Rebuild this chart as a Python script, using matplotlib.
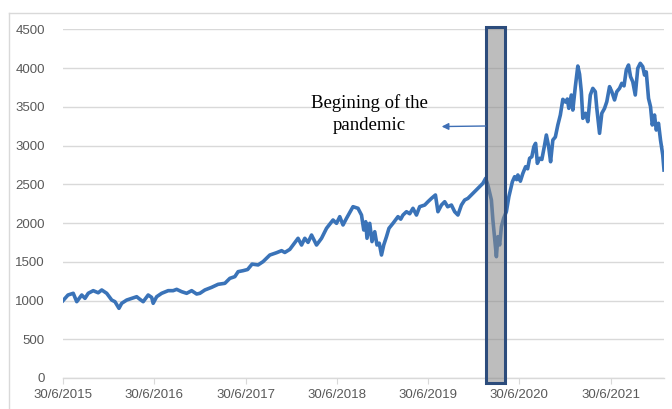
import matplotlib
matplotlib.use("Agg")
import matplotlib.pyplot as plt
import matplotlib.dates as mdates
import pandas as pd
from matplotlib.patches import Rectangle

# index level
dates = [
    "2015-06-30", "2015-07-20", "2015-08-10", "2015-08-24", "2015-09-13", "2015-09-26",
    "2015-10-09", "2015-10-29", "2015-11-18", "2015-12-02", "2015-12-22", "2016-01-11",
    "2016-01-24", "2016-02-09", "2016-02-20", "2016-03-11", "2016-03-31", "2016-04-20",
    "2016-05-03", "2016-05-16", "2016-06-05", "2016-06-19", "2016-06-25", "2016-07-09",
    "2016-07-29", "2016-08-24", "2016-09-13", "2016-09-27", "2016-10-17", "2016-11-06",
    "2016-11-26", "2016-12-16", "2016-12-29", "2017-01-18", "2017-02-14", "2017-03-12",
    "2017-04-08", "2017-04-28", "2017-05-18", "2017-05-31", "2017-06-20", "2017-07-08",
    "2017-07-26", "2017-08-19", "2017-09-08", "2017-10-05", "2017-11-01", "2017-11-21",
    "2017-12-04", "2017-12-24", "2018-01-26", "2018-02-09", "2018-02-22", "2018-03-07",
    "2018-03-21", "2018-04-10", "2018-04-30", "2018-05-20", "2018-06-15", "2018-06-29",
    "2018-07-12", "2018-07-25", "2018-08-08", "2018-09-03", "2018-09-23", "2018-10-07",
    "2018-10-16", "2018-10-24", "2018-10-29", "2018-11-09", "2018-11-18", "2018-11-29",
    "2018-12-08", "2018-12-17", "2018-12-26", "2019-01-04", "2019-01-15", "2019-01-25",
    "2019-02-10", "2019-03-02", "2019-03-13", "2019-03-22", "2019-04-05", "2019-04-18",
    "2019-05-01", "2019-05-15", "2019-05-28", "2019-06-17", "2019-06-30", "2019-07-14",
    "2019-07-30", "2019-08-09", "2019-08-23", "2019-09-05", "2019-09-17", "2019-10-02",
    "2019-10-15", "2019-10-28", "2019-11-11", "2019-11-24", "2019-12-07", "2019-12-27",
    "2020-01-16", "2020-02-05", "2020-02-16", "2020-02-25", "2020-03-10", "2020-03-16",
    "2020-03-26", "2020-03-30", "2020-04-05", "2020-04-12", "2020-04-19", "2020-04-28",
    "2020-05-09", "2020-05-19", "2020-06-02", "2020-06-11", "2020-06-19", "2020-06-24",
    "2020-07-04", "2020-07-14", "2020-07-25", "2020-08-02", "2020-08-10", "2020-08-19",
    "2020-08-27", "2020-09-03", "2020-09-10", "2020-09-19", "2020-09-28", "2020-10-09",
    "2020-10-16", "2020-10-25", "2020-11-02", "2020-11-11", "2020-11-21", "2020-12-01",
    "2020-12-11", "2020-12-21", "2021-01-01", "2021-01-08", "2021-01-14", "2021-01-24",
    "2021-01-30", "2021-02-09", "2021-02-19", "2021-02-26", "2021-03-05", "2021-03-11",
    "2021-03-22", "2021-03-31", "2021-04-10", "2021-04-20", "2021-04-30", "2021-05-06",
    "2021-05-17", "2021-05-26", "2021-06-06", "2021-06-15", "2021-06-26", "2021-07-05",
    "2021-07-16", "2021-07-25", "2021-08-05", "2021-08-14", "2021-08-23", "2021-09-01",
    "2021-09-10", "2021-09-18", "2021-09-27", "2021-10-07", "2021-10-17", "2021-10-27",
    "2021-11-06", "2021-11-13", "2021-11-20", "2021-11-29", "2021-12-07", "2021-12-14",
    "2021-12-23", "2021-12-30", "2022-01-08", "2022-01-16", "2022-01-25", "2022-01-30",
]
values = [
    998, 1071, 1093, 985, 1071, 1028,
    1093, 1127, 1100, 1136, 1093, 1006,
    985, 899, 964, 1006, 1028, 1049,
    1015, 985, 1071, 1040, 964, 1049,
    1093, 1127, 1127, 1144, 1114, 1093,
    1127, 1084, 1093, 1136, 1170, 1209,
    1222, 1286, 1308, 1372, 1385, 1400,
    1470, 1459, 1502, 1587, 1617, 1643,
    1620, 1660, 1803, 1716, 1803, 1750,
    1845, 1716, 1803, 1932, 2039, 1996,
    2082, 1975, 2061, 2211, 2190, 2103,
    1910, 2017, 1803, 1996, 1760, 1888,
    1716, 1740, 1587, 1716, 1824, 1932,
    1996, 2082, 2050, 2103, 2146, 2120,
    2190, 2103, 2211, 2232, 2275, 2318,
    2362, 2146, 2232, 2275, 2210, 2232,
    2146, 2103, 2232, 2297, 2318, 2383,
    2447, 2512, 2577, 2490, 2297, 2039,
    1695, 1566, 1824, 1717, 1953, 2061,
    2147, 2340, 2533, 2598, 2560, 2620,
    2540, 2641, 2727, 2700, 2835, 2856,
    2985, 3028, 2770, 2835, 2820, 3007,
    3136, 2990, 2791, 3071, 3110, 3265,
    3394, 3596, 3560, 3600, 3480, 3652,
    3458, 3760, 4026, 3920, 3695, 3351,
    3416, 3308, 3652, 3738, 3695, 3480,
    3158, 3416, 3480, 3566, 3760, 3695,
    3588, 3695, 3738, 3803, 3770, 3975,
    4039, 3889, 3823, 3652, 3997, 4061,
    4018, 3910, 3950, 3609, 3502, 3265,
    3394, 3200, 3287, 3071, 2878, 2684,
]

tick_dates = ["2015-06-30", "2016-06-30", "2017-06-30", "2018-06-30",
              "2019-06-30", "2020-06-30", "2021-06-30"]
tick_labels = ["30/6/2015", "30/6/2016", "30/6/2017", "30/6/2018",
               "30/6/2019", "30/6/2020", "30/6/2021"]

# pandemic box and note
box_start, box_end = "2020-02-16", "2020-05-02"
box_low, box_high = -60, 4534
note_text = "Begining of the\npandemic"
note_pos = ("2018-11-09", 3405)
arrow_from = ("2020-02-16", 3252)
arrow_to = ("2019-08-24", 3245)

grey = "#595959"
grid_col = "#D9D9D9"

x = pd.to_datetime(dates)

fig = plt.figure(figsize=(6.72, 4.09), dpi=100)
ax = fig.add_axes([63 / 672, 31 / 409, 601 / 672, 348.7 / 409])

ax.plot(x, values, color="#3A73B8", lw=2.6, solid_joinstyle="round", zorder=3)

ax.set_ylim(0, 4500)
ax.set_yticks(range(0, 4501, 500))
ax.set_xlim(pd.Timestamp("2015-06-30"), pd.Timestamp("2022-01-30"))
ax.set_xticks(pd.to_datetime(tick_dates))
ax.set_xticklabels(tick_labels)

ax.grid(axis="y", color=grid_col, lw=1.0, zorder=0)
for s in ["top", "right", "left"]:
    ax.spines[s].set_visible(False)
ax.spines["bottom"].set_color(grid_col)
ax.spines["bottom"].set_linewidth(1.0)
ax.tick_params(axis="y", length=0, pad=13, labelsize=9.5, labelcolor=grey)
ax.tick_params(axis="x", length=4, color=grid_col, pad=4, labelsize=9.5, labelcolor=grey)
for lab in ax.get_xticklabels() + ax.get_yticklabels():
    lab.set_fontfamily("Liberation Sans")

x0 = mdates.date2num(pd.Timestamp(box_start))
x1 = mdates.date2num(pd.Timestamp(box_end))
ax.add_patch(Rectangle((x0, box_low), x1 - x0, box_high - box_low,
                       facecolor="#888888", alpha=0.55, edgecolor="none",
                       zorder=4, clip_on=False))
ax.add_patch(Rectangle((x0, box_low), x1 - x0, box_high - box_low,
                       facecolor="none", edgecolor="#2C4C7C", lw=2.2,
                       zorder=5, clip_on=False))

ax.text(pd.Timestamp(note_pos[0]), note_pos[1], note_text, ha="center", va="center",
        fontsize=13.5, family="Liberation Serif", color="black", linespacing=1.35, zorder=6)
ax.annotate("", xy=(pd.Timestamp(arrow_to[0]), arrow_to[1]),
            xytext=(pd.Timestamp(arrow_from[0]), arrow_from[1]),
            arrowprops=dict(arrowstyle="-|>", color="#3F6FB5", lw=1.0,
                            mutation_scale=10, shrinkA=0, shrinkB=0), zorder=6)

# outer chart-area border (top and left visible)
fig.add_artist(plt.Line2D([9 / 672, 1.0], [1 - 12.5 / 409] * 2, color=grid_col, lw=1.0))
fig.add_artist(plt.Line2D([9 / 672] * 2, [0, 1 - 12.5 / 409], color=grid_col, lw=1.0))

fig.savefig("out.png", dpi=100)
